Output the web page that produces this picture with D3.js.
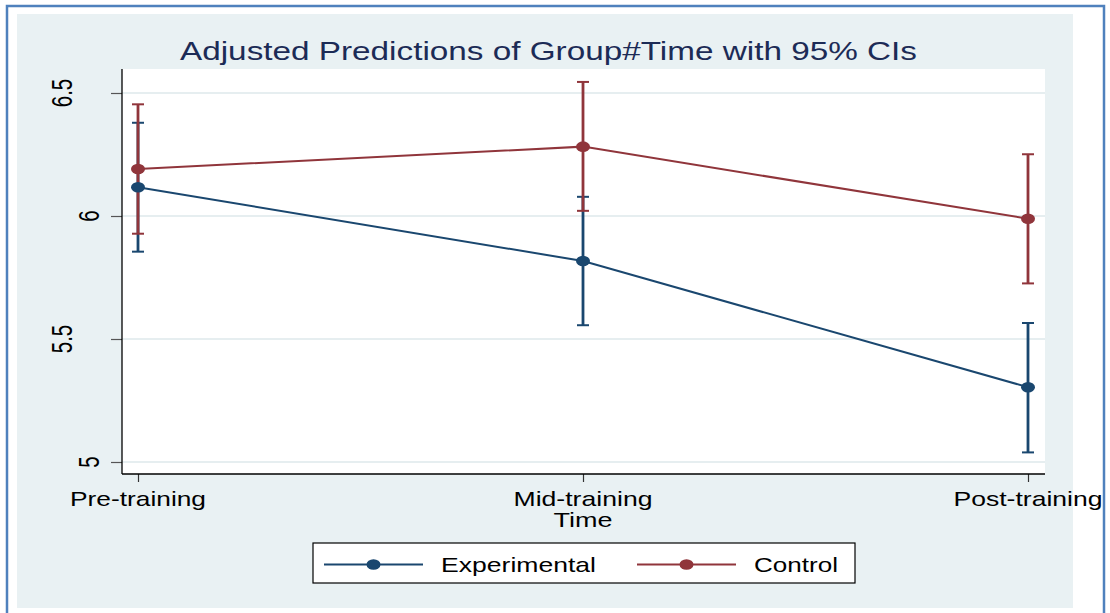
<!DOCTYPE html>
<html>
<head>
<meta charset="utf-8">
<script src="https://cdn.jsdelivr.net/npm/d3@7"></script>
<style>
  html, body { margin: 0; padding: 0; background: #fff; }
  svg { display: block; font-family: "Liberation Sans", Arial, sans-serif; }
</style>
</head>
<body>
<div id="chart"></div>
<script>
// chart data
const times = ['Pre-training', 'Mid-training', 'Post-training'];
const groups = ['Experimental', 'Control'];
const expMargin = [6.117, 5.817, 5.304];
const expLower = [5.855, 5.556, 5.039];
const expUpper = [6.379, 6.078, 5.565];
const ctlMargin = [6.191, 6.282, 5.989];
const ctlLower = [5.928, 6.021, 5.726];
const ctlUpper = [6.454, 6.545, 6.251];
const yTicks = [5, 5.5, 6, 6.5];
const titleText = 'Adjusted Predictions of Group#Time with 95% CIs';
const xTitle = 'Time';

const W = 1110, H = 613;
const plot = { left: 122, right: 1045, top: 69, bottom: 474 };
const colors = { Experimental: '#1a476f', Control: '#90353b' };

const svg = d3.select('#chart').append('svg')
    .attr('width', W)
    .attr('height', H);

// outer frame + graph region
svg.append('rect')
    .attr('x', 7).attr('y', 6)
    .attr('width', 1097).attr('height', 630)
    .attr('fill', '#fff')
    .attr('stroke', '#4f81bd')
    .attr('stroke-width', 2.5);

svg.append('rect')
    .attr('x', 17).attr('y', 14)
    .attr('width', 1056).attr('height', 594)
    .attr('fill', '#e9f1f3');

// plot region
svg.append('rect')
    .attr('x', plot.left).attr('y', plot.top)
    .attr('width', plot.right - plot.left).attr('height', plot.bottom - plot.top)
    .attr('fill', '#fff');

const x = d3.scalePoint().domain(times).range([138, 1028]);
const y = d3.scaleLinear().domain([5, 6.5]).range([462, 93]);

// gridlines
svg.append('g').selectAll('line')
    .data(yTicks)
    .join('line')
    .attr('x1', plot.left).attr('x2', plot.right)
    .attr('y1', d => y(d)).attr('y2', d => y(d))
    .attr('stroke', '#e6eef0')
    .attr('stroke-width', 2);

// y axis
const yAxis = svg.append('g')
    .attr('transform', `translate(${plot.left},0)`)
    .call(d3.axisLeft(y).tickValues(yTicks).tickSize(11).tickFormat(d3.format('')));
yAxis.select('.domain').remove();
yAxis.selectAll('.tick line').attr('stroke', '#555').attr('stroke-width', 1.2);
yAxis.selectAll('.tick text').remove();

// rotated y labels (stretched like the source bitmap)
svg.append('g').selectAll('text')
    .data(yTicks)
    .join('text')
    .attr('transform', d => {
        const s = String(d);
        const cx = 99 - (s.length - 1) * 13.5;
        return `translate(${cx},${y(d)}) scale(1.45,1) rotate(-90)`;
    })
    .attr('text-anchor', 'middle')
    .attr('font-size', 20.5)
    .attr('fill', '#000')
    .text(d => String(d));

// x axis
const xAxis = svg.append('g')
    .attr('transform', `translate(0,${plot.bottom})`)
    .call(d3.axisBottom(x).tickSize(8).tickFormat(''));
xAxis.select('.domain').remove();
xAxis.selectAll('.tick line').attr('stroke', '#333').attr('stroke-width', 1.2);

const xLabelW = { 'Pre-training': 136, 'Mid-training': 139, 'Post-training': 149 };
svg.append('g').selectAll('text')
    .data(times)
    .join('text')
    .attr('x', d => x(d))
    .attr('y', 506)
    .attr('text-anchor', 'middle')
    .attr('font-size', 21)
    .attr('textLength', d => xLabelW[d])
    .attr('lengthAdjust', 'spacingAndGlyphs')
    .attr('fill', '#000')
    .text(d => d);

svg.append('text')
    .attr('x', x('Mid-training'))
    .attr('y', 527)
    .attr('text-anchor', 'middle')
    .attr('font-size', 20)
    .attr('textLength', 59)
    .attr('lengthAdjust', 'spacingAndGlyphs')
    .attr('fill', '#000')
    .text(xTitle);

// axis lines
svg.append('line')
    .attr('x1', plot.left).attr('x2', plot.left)
    .attr('y1', plot.top).attr('y2', plot.bottom)
    .attr('stroke', '#000').attr('stroke-width', 1.3);
svg.append('line')
    .attr('x1', plot.left).attr('x2', plot.right)
    .attr('y1', plot.bottom).attr('y2', plot.bottom)
    .attr('stroke', '#000').attr('stroke-width', 1.3);

// title
svg.append('text')
    .attr('x', 548.5)
    .attr('y', 60)
    .attr('text-anchor', 'middle')
    .attr('font-size', 25)
    .attr('textLength', 737)
    .attr('lengthAdjust', 'spacingAndGlyphs')
    .attr('fill', '#1c2b56')
    .text(titleText);

// series
const series = [
    { name: 'Experimental', m: expMargin, lo: expLower, hi: expUpper },
    { name: 'Control', m: ctlMargin, lo: ctlLower, hi: ctlUpper }
].map(s => ({
    name: s.name,
    pts: times.map((t, i) => ({ t, m: s.m[i], lo: s.lo[i], hi: s.hi[i] }))
}));

const capHalf = 6;

// confidence intervals first
series.forEach(s => {
    const g = svg.append('g').attr('stroke', colors[s.name]);
    g.selectAll('.ci')
        .data(s.pts)
        .join('line')
        .attr('x1', d => x(d.t)).attr('x2', d => x(d.t))
        .attr('y1', d => y(d.lo)).attr('y2', d => y(d.hi))
        .attr('stroke-width', 2.8);
    g.selectAll('.capHi')
        .data(s.pts)
        .join('line')
        .attr('x1', d => x(d.t) - capHalf).attr('x2', d => x(d.t) + capHalf)
        .attr('y1', d => y(d.hi)).attr('y2', d => y(d.hi))
        .attr('stroke-width', 2);
    g.selectAll('.capLo')
        .data(s.pts)
        .join('line')
        .attr('class', 'capLo')
        .attr('x1', d => x(d.t) - capHalf).attr('x2', d => x(d.t) + capHalf)
        .attr('y1', d => y(d.lo)).attr('y2', d => y(d.lo))
        .attr('stroke-width', 2);
});

// lines + markers
const line = d3.line().x(d => x(d.t)).y(d => y(d.m));
series.forEach(s => {
    svg.append('path')
        .datum(s.pts)
        .attr('d', line)
        .attr('fill', 'none')
        .attr('stroke', colors[s.name])
        .attr('stroke-width', 2);
    svg.append('g').selectAll('ellipse')
        .data(s.pts)
        .join('ellipse')
        .attr('cx', d => x(d.t)).attr('cy', d => y(d.m))
        .attr('rx', 7).attr('ry', 5.3)
        .attr('fill', colors[s.name]);
});

// legend
const legend = svg.append('g');
legend.append('rect')
    .attr('x', 313).attr('y', 543)
    .attr('width', 542).attr('height', 40)
    .attr('fill', '#fff')
    .attr('stroke', '#000')
    .attr('stroke-width', 1.2);

const legendItems = [
    { name: 'Experimental', x0: 324, x1: 423, tx: 441, tw: 155 },
    { name: 'Control', x0: 637, x1: 736, tx: 754, tw: 84 }
];
const li = legend.selectAll('.item')
    .data(legendItems)
    .join('g');
li.append('line')
    .attr('x1', d => d.x0).attr('x2', d => d.x1)
    .attr('y1', 564.5).attr('y2', 564.5)
    .attr('stroke', d => colors[d.name])
    .attr('stroke-width', 2);
li.append('ellipse')
    .attr('cx', d => (d.x0 + d.x1) / 2).attr('cy', 564.5)
    .attr('rx', 7).attr('ry', 5.3)
    .attr('fill', d => colors[d.name]);
li.append('text')
    .attr('x', d => d.tx)
    .attr('y', 572)
    .attr('font-size', 21)
    .attr('textLength', d => d.tw)
    .attr('lengthAdjust', 'spacingAndGlyphs')
    .attr('fill', '#000')
    .text(d => d.name);
</script>
</body>
</html>
